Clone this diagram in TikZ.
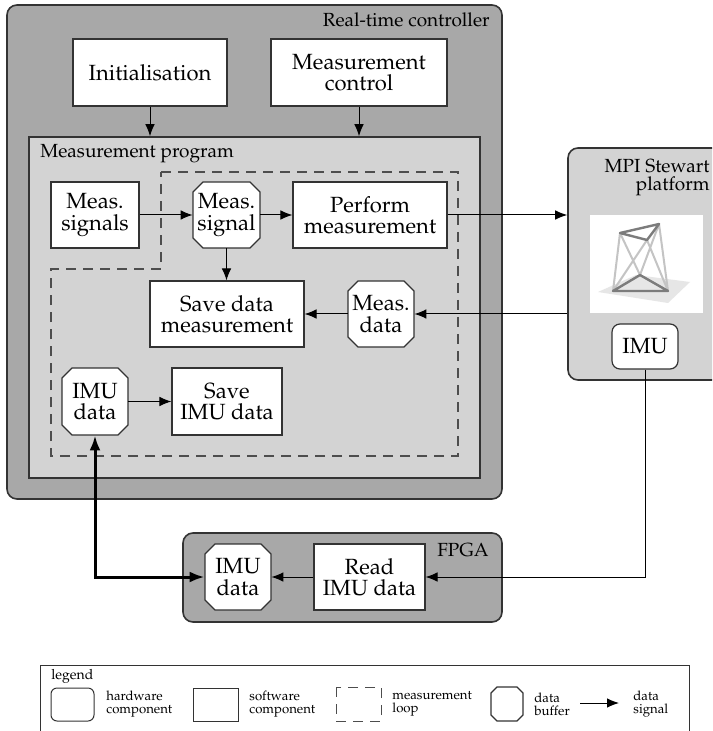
\documentclass[tikz,border=0pt]{standalone}
\usepackage[T1]{fontenc}
\usepackage{mathpazo}
\usetikzlibrary{arrows.meta,calc}

\definecolor{groupdark}{HTML}{A8A8A8}
\definecolor{grouplight}{HTML}{D3D3D3}
\definecolor{edgecol}{HTML}{333333}
\definecolor{loopcol}{HTML}{4D4D4D}
\definecolor{rodlight}{HTML}{C4C4C4}
\definecolor{roddark}{HTML}{7C7C7C}
\definecolor{floorcol}{HTML}{E6E6E6}

% octagonal data buffer: name, centre x, centre y, half width, half height, chamfer, text
\newcommand{\bufferbox}[7]{%
  \path[bufshape] (#2-#4,#3-#5+#6) -- (#2-#4+#6,#3-#5) -- (#2+#4-#6,#3-#5)
    -- (#2+#4,#3-#5+#6) -- (#2+#4,#3+#5-#6) -- (#2+#4-#6,#3+#5)
    -- (#2-#4+#6,#3+#5) -- (#2-#4,#3+#5-#6) -- cycle;
  \node[minimum width=#4pt, minimum height=#5pt] (#1) at (#2,#3) {#7};
}

\begin{document}
\begin{tikzpicture}[x=0.5pt, y=-0.5pt,
  every node/.style={font=\fontsize{11}{10.6}\selectfont, align=center, inner sep=0pt},
  swbox/.style={draw=edgecol, line width=0.6pt, fill=white, rectangle},
  hwbox/.style={draw=edgecol, line width=0.6pt, fill=white, rounded corners=4pt},
  bufshape/.style={draw=edgecol, line width=0.6pt, fill=white},
  groupbox/.style={draw=edgecol, line width=0.8pt},
  grouplabel/.style={font=\fontsize{9.5}{9}\selectfont},
  sig/.style={draw=black, line width=0.5pt, -{Latex[length=6pt,width=4.8pt]}},
  bussig/.style={draw=black, line width=1.5pt, {Latex[length=7.5pt,width=5.5pt]}-{Latex[length=7.5pt,width=5.5pt]}},
  loopline/.style={draw=loopcol, line width=0.6pt, dash pattern=on 5pt off 3.5pt},
  legendtext/.style={font={\fontsize{6.6}{6.6}\selectfont}, align=left, anchor=west},
  legendbox/.style={draw=edgecol, line width=0.5pt}
]
\useasboundingbox (0,0) rectangle (712,731);
\clip (0,0) rectangle (712,731);

% ---------------- real-time controller ----------------
\node[groupbox, fill=groupdark, rounded corners=5pt, minimum width=247.5pt, minimum height=247pt] (rt) at (254.5,252) {};
\node[grouplabel, anchor=base east] (rtlabel) at (490,27) {Real-time controller};

\node[swbox, minimum width=77pt, minimum height=33.5pt] (init) at (150,72.5) {Initialisation};
\node[swbox, minimum width=88pt, minimum height=33.5pt] (mc) at (359,72.5) {Measurement\\control};

% measurement program
\node[groupbox, fill=grouplight, minimum width=225.5pt, minimum height=170.5pt] (mp) at (254.5,307.5) {};
\node[grouplabel, anchor=base west] (mplabel) at (40,158) {Measurement program};

% measurement loop
\draw[loopline] (161,172) -- (458,172) -- (458,456) -- (51,456) -- (51,269) -- (161,269) -- cycle;

\node[swbox, minimum width=44pt, minimum height=33pt] (ms) at (95,215) {Meas.\\signals};
\bufferbox{msig}{226.5}{215}{33.5}{33}{10}{Meas.\\signal}
\node[swbox, minimum width=77pt, minimum height=33pt] (pm) at (370,215) {Perform\\measurement};
\node[swbox, minimum width=77pt, minimum height=33pt] (sdm) at (227,314) {Save data\\measurement};
\bufferbox{md}{381}{314}{33}{33}{10}{Meas.\\data}
\bufferbox{imud}{95}{401.5}{33}{33.5}{10}{IMU\\data}
\node[swbox, minimum width=55pt, minimum height=33.5pt] (simu) at (227,401.5) {Save\\IMU data};

% ---------------- MPI Stewart platform ----------------
\node[groupbox, fill=grouplight, rounded corners=5pt, minimum width=81pt, minimum height=116pt] (sp) at (649,264) {};
\node[grouplabel, anchor=north east, align=right] (splabel) at (710,159) {MPI Stewart\\platform};

% platform sketch
\fill[white] (590,215) rectangle (703,313);
\fill[floorcol] (598,292) -- (636,275) -- (690,282) -- (668,303) -- cycle;
\draw[rodlight, line width=1pt, line cap=round]
  (620,233) -- (613,291)  (620,233) -- (640,275)
  (659,224) -- (640,275)  (659,224) -- (668,291)
  (647,240) -- (613,291)  (647,240) -- (668,291);
\draw[roddark, line width=1.2pt, line join=round] (613,291) -- (640,275) -- (668,291) -- cycle;
\draw[roddark, line width=1.2pt, line join=round] (620,233) -- (659,224) -- (647,240) -- cycle;

\node[hwbox, minimum width=33pt, minimum height=22.5pt] (imu) at (645,346.5) {IMU};

% ---------------- FPGA ----------------
\node[groupbox, fill=groupdark, rounded corners=5pt, minimum width=159.5pt, minimum height=44.5pt] (fpga) at (342.5,577.5) {};
\node[grouplabel, anchor=base east] (fpgalabel) at (489,556) {FPGA};
\bufferbox{fimu}{238}{577}{33}{33}{10}{IMU\\data}
\node[swbox, minimum width=55.5pt, minimum height=33pt] (rimu) at (369.5,577) {Read\\IMU data};

% ---------------- data signals ----------------
\draw[sig] (init.south) -- (init.south |- mp.north);
\draw[sig] (mc.south) -- (mc.south |- mp.north);
\draw[sig] (ms) -- (msig);
\draw[sig] (msig) -- (pm);
\draw[sig] (msig.south) -- (msig.south |- sdm.north);
\draw[sig] (pm.east) -- (pm.east -| sp.west);
\draw[sig] (md.east -| sp.west) -- (md.east);
\draw[sig] (md) -- (sdm);
\draw[sig] (imud) -- (simu);
\draw[sig] (imu.south) |- (rimu.east);
\draw[sig] (rimu) -- (fimu);
\draw[bussig] (imud.south) |- (fimu.west);

% ---------------- legend ----------------
\draw[legendbox] (40,665) rectangle (689,760);
\node[font=\fontsize{7}{8}\selectfont, anchor=base west] (legendtitle) at (51,679) {legend};
\node[legendbox, rounded corners=3pt, minimum width=21.5pt, minimum height=16.5pt] (lghw) at (72.5,704.5) {};
\node[legendtext] (lghwtext) at (106,704) {hardware\\component};
\node[legendbox, minimum width=22.5pt, minimum height=16.5pt] (lgsw) at (215.5,704.5) {};
\node[legendtext] (lgswtext) at (249,704) {software\\component};
\draw[loopline, line width=0.5pt] (336,687) rectangle (381,721);
\node[legendtext] (lglooptext) at (392,704) {measurement\\loop};
\bufferbox{lgbuf}{507}{704}{16}{17}{6}{}
\node[legendtext] (lgbuftext) at (534,704) {data\\buffer};
\coordinate (lgsigA) at (580,703);
\coordinate (lgsigB) at (619,703);
\draw[sig] (lgsigA) -- (lgsigB);
\node[legendtext] (lgsigtext) at (633,704) {data\\signal};
\end{tikzpicture}
\end{document}
